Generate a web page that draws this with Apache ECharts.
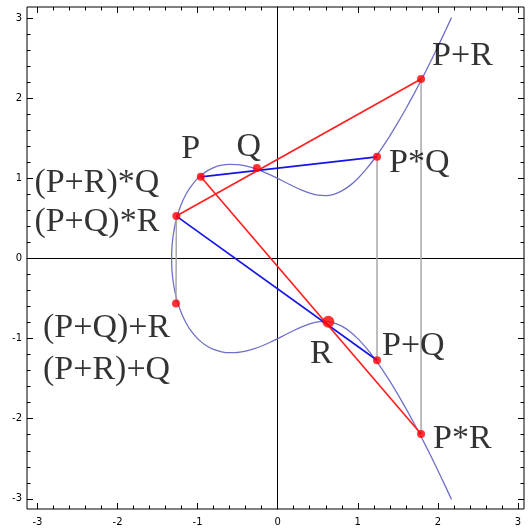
<!DOCTYPE html>
<html>
<head>
<meta charset="utf-8">
<script src="https://cdn.jsdelivr.net/npm/echarts@6/dist/echarts.min.js"></script>
<style>
html,body{margin:0;padding:0;background:#fff;}
#chart{width:529px;height:528px;}
</style>
</head>
<body>
<div id="chart"></div>
<script>
// ---- data ----
const majorTicks = [-3, -2, -1, 0, 1, 2, 3];
const minorTicks = [-2.8, -2.6, -2.4, -2.2, -1.8, -1.6, -1.4, -1.2, -0.8, -0.6, -0.4, -0.2,
                    0.2, 0.4, 0.6, 0.8, 1.2, 1.4, 1.6, 1.8, 2.2, 2.4, 2.6, 2.8];
const xRange = [-3.13, 3.075];
const yRange = [-3.127, 3.14];

// curve, upper branch (left end to top right)
const curveUpper = [
  [-1.3247, 0], [-1.32, 0.142], [-1.31, 0.249], [-1.30, 0.321], [-1.28, 0.428], [-1.25, 0.545],
  [-1.2, 0.687], [-1.15, 0.793], [-1.1, 0.877], [-1.0, 1.0], [-0.9, 1.082], [-0.8, 1.135],
  [-0.7, 1.165], [-0.6, 1.176], [-0.5, 1.173], [-0.4, 1.156], [-0.3, 1.128], [-0.2, 1.092],
  [-0.1, 1.048], [0, 1.0], [0.1, 0.949], [0.2, 0.899], [0.3, 0.853], [0.4, 0.815], [0.5, 0.791],
  [0.6, 0.785], [0.7, 0.802], [0.8, 0.844], [0.9, 0.910], [1.0, 1.0], [1.1, 1.110], [1.2, 1.236],
  [1.3, 1.377], [1.4, 1.531], [1.5, 1.696], [1.6, 1.870], [1.7, 2.053], [1.8, 2.243], [1.9, 2.441],
  [2.0, 2.646], [2.1, 2.857], [2.17, 3.008]
];
// curve, lower branch (bottom right to left end)
const curveLower = [
  [2.17, -3.008], [2.1, -2.857], [2.0, -2.646], [1.9, -2.441], [1.8, -2.243], [1.7, -2.053],
  [1.6, -1.870], [1.5, -1.696], [1.4, -1.531], [1.3, -1.377], [1.2, -1.236], [1.1, -1.110],
  [1.0, -1.0], [0.9, -0.910], [0.8, -0.844], [0.7, -0.802], [0.6, -0.785], [0.5, -0.791],
  [0.4, -0.815], [0.3, -0.853], [0.2, -0.899], [0.1, -0.949], [0, -1.0], [-0.1, -1.048],
  [-0.2, -1.092], [-0.3, -1.128], [-0.4, -1.156], [-0.5, -1.173], [-0.6, -1.176], [-0.7, -1.165],
  [-0.8, -1.135], [-0.9, -1.082], [-1.0, -1.0], [-1.1, -0.877], [-1.15, -0.793], [-1.2, -0.687],
  [-1.25, -0.545], [-1.28, -0.428], [-1.30, -0.321], [-1.31, -0.249], [-1.32, -0.142], [-1.3247, 0]
];

// named points
const ptP    = [-0.96, 1.02];
const ptQ    = [-0.26, 1.13];
const ptR    = [0.632, -0.79];
const ptPsQ  = [1.24, 1.27];   // P*Q
const ptPpQ  = [1.24, -1.27];  // P+Q
const ptPpR  = [1.79, 2.24];   // P+R
const ptPsR  = [1.79, -2.19];  // P*R
const ptMul  = [-1.265, 0.53]; // (P+R)*Q = (P+Q)*R
const ptSum  = [-1.27, -0.56]; // (P+Q)+R = (P+R)+Q

// segments
const redLines  = [[ptP, ptPsR], [ptMul, ptPpR]];
const blueLines = [[ptP, ptPsQ], [ptMul, ptPpQ]];
const grayLines = [[ptPsQ, ptPpQ], [ptPpR, ptPsR], [ptMul, ptSum]];

// ---- chart ----
const FONT = 'Liberation Serif';
const FS = 34;
const rect = {left: 27, top: 7, width: 497, height: 502};

function frameAxis(dim, gridIndex, position, ticks, len, labels) {
  return {
    type: 'value', gridIndex: gridIndex, position: position,
    min: dim === 'x' ? xRange[0] : yRange[0],
    max: dim === 'x' ? xRange[1] : yRange[1],
    axisLine: {show: false, onZero: false},
    splitLine: {show: false},
    axisTick: {show: true, inside: true, length: len, customValues: ticks,
               lineStyle: {color: '#000', width: 1}},
    axisLabel: labels ? {show: true, customValues: ticks, margin: dim === 'x' ? 8 : 5, color: '#000',
               fontFamily: 'DejaVu Sans', fontSize: 10} : {show: false},
    z: 1
  };
}
function zeroAxis(dim) {
  return {
    type: 'value', gridIndex: 2,
    min: dim === 'x' ? xRange[0] : yRange[0],
    max: dim === 'x' ? xRange[1] : yRange[1],
    axisLine: {show: true, onZero: true, onZeroAxisIndex: 4, lineStyle: {color: '#000', width: 1}},
    axisTick: {show: false}, axisLabel: {show: false}, splitLine: {show: false}, z: 1
  };
}

function segSeries(lines, color, width, z) {
  return lines.map(seg => ({
    type: 'line', xAxisIndex: 0, yAxisIndex: 0, data: seg, showSymbol: false,
    lineStyle: {color: color, width: width}, silent: true, animation: false, z: z
  }));
}

function lbl(text, offset, align) {
  return {show: true, formatter: text, position: 'inside', offset: offset,
          align: align || 'center', verticalAlign: 'middle',
          fontFamily: FONT, fontSize: FS, color: '#000'};
}

const dots = [
  {value: ptP,   label: lbl('P', [-10, -28])},
  {value: ptQ,   label: lbl('Q', [-8, -21])},
  {value: ptPsQ, label: lbl('P*Q', [12, 6], 'left')},
  {value: ptPpR, label: lbl('P+R', [11, -23], 'left')},
  {value: ptPsR, label: lbl('P*R', [12, 5], 'left')},
  {value: ptPpQ, label: lbl('P+Q', [5, -14], 'left')},
  {value: ptMul, label: {show: true, position: 'inside', offset: [-142, -13], align: 'left',
                         verticalAlign: 'middle', fontFamily: FONT, fontSize: FS, color: '#000',
                         lineHeight: 39, formatter: '(P+R)*Q\n(P+Q)*R'}},
  {value: ptSum, label: {show: true, position: 'inside', offset: [-133, 46], align: 'left',
                         verticalAlign: 'middle', fontFamily: FONT, fontSize: FS, color: '#000',
                         lineHeight: 42, formatter: '(P+Q)+R\n(P+R)+Q'}}
];

const option = {
  animation: false,
  grid: [
    Object.assign({show: true, borderColor: '#000', borderWidth: 1, backgroundColor: 'transparent'}, rect),
    Object.assign({}, rect),
    Object.assign({}, rect)
  ],
  xAxis: [
    frameAxis('x', 0, 'bottom', majorTicks, 6, true),
    frameAxis('x', 0, 'top', majorTicks, 6, false),
    frameAxis('x', 1, 'bottom', minorTicks, 3.5, false),
    frameAxis('x', 1, 'top', minorTicks, 3.5, false),
    zeroAxis('x')
  ],
  yAxis: [
    frameAxis('y', 0, 'left', majorTicks, 6, true),
    frameAxis('y', 0, 'right', majorTicks, 6, false),
    frameAxis('y', 1, 'left', minorTicks, 3.5, false),
    frameAxis('y', 1, 'right', minorTicks, 3.5, false),
    zeroAxis('y')
  ],
  series: [
    {type: 'line', xAxisIndex: 0, yAxisIndex: 0, data: curveLower.concat(curveUpper),
     showSymbol: false, smooth: 0.2, lineStyle: {color: '#7070c8', width: 1.3}, z: 2, silent: true},
    ...segSeries(grayLines, '#a8a8a8', 1.5, 3),
    ...segSeries(blueLines, '#1515e8', 1.7, 4),
    ...segSeries(redLines, '#ff2020', 1.7, 5),
    {type: 'scatter', xAxisIndex: 0, yAxisIndex: 0, data: dots, symbolSize: 8,
     itemStyle: {color: '#ff0000'}, z: 6, silent: true},
    {type: 'scatter', xAxisIndex: 0, yAxisIndex: 0, data: [{value: ptR, label: lbl('R', [-7, 32])}],
     symbolSize: 12, itemStyle: {color: '#ff0000'}, z: 6, silent: true}
  ]
};

const chart = echarts.init(document.getElementById('chart'), null, {renderer: 'canvas'});
chart.setOption(option);
</script>
</body>
</html>
